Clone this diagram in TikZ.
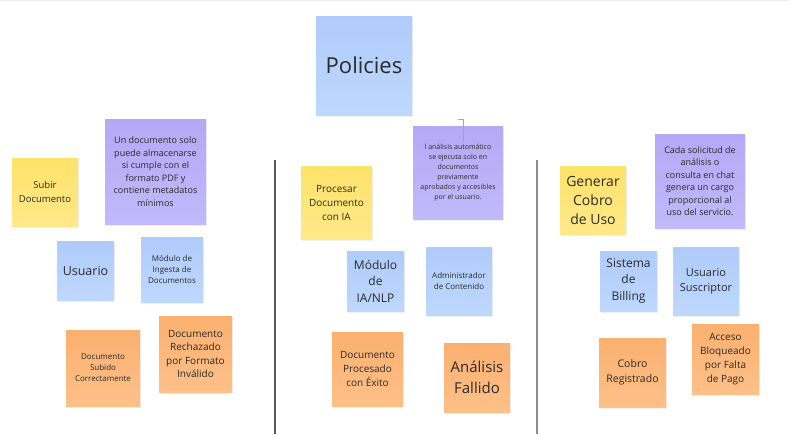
\documentclass[tikz,border=0pt]{standalone}
\usepackage{fontspec}
\setmainfont{Open Sans}
\usetikzlibrary{shadows}
\definecolor{ytop}{HTML}{FDE26A}
\definecolor{ybot}{HTML}{FFE888}
\definecolor{btop}{HTML}{AFCBFA}
\definecolor{bbot}{HTML}{BED8FD}
\definecolor{otop}{HTML}{FBB070}
\definecolor{obot}{HTML}{FDC088}
\definecolor{ptop}{HTML}{B5A8F5}
\definecolor{pbot}{HTML}{C2B9FA}
\definecolor{ink}{HTML}{2B2B2B}
\newcommand{\fs}[2]{\fontsize{#1}{#2}\selectfont}
\begin{document}
\begin{tikzpicture}[x=1pt,y=-1pt,
  sticky/.style 2 args={top color=#1,bottom color=#2,draw=none,inner sep=0pt,
    align=center,text=ink,
    drop shadow={opacity=0.12,shadow xshift=1pt,shadow yshift=-1.5pt}},
  yellownote/.style={sticky={ytop}{ybot}},
  bluenote/.style={sticky={btop}{bbot}},
  orangenote/.style={sticky={otop}{obot}},
  purplenote/.style={sticky={ptop}{pbot}},
  lane/.style={draw=#1,line width=1.3pt}]
\useasboundingbox (0,0) rectangle (789,434);
\fill[white] (0,0) rectangle (789,434);
\fill[black!7] (0,0) rectangle (789,1.3);
% title
\node[bluenote,minimum width=96pt,minimum height=99pt,font=\fs{22}{26}] (policies) at (364,65.5) {Policies};
% lanes
\draw[lane=black!65] (275,160) -- (275,434);
\draw[lane=black!45] (537,160) -- (537,434);
% first lane
\node[yellownote,minimum width=66pt,minimum height=68pt,font=\fs{9.5}{13.5}] (subir) at (45,192) {Subir\\Documento};
\node[purplenote,minimum width=101pt,minimum height=105pt,font=\fs{9}{12.5}] (regla1) at (155.5,171.5) {Un documento solo\\puede almacenarse\\si cumple con el\\formato PDF y\\contiene metadatos\\mínimos};
\node[bluenote,minimum width=57pt,minimum height=59pt,font=\fs{12.5}{16}] (usuario) at (85.5,270.5) {Usuario};
\node[bluenote,minimum width=62pt,minimum height=65pt,font=\fs{8}{11}] (ingesta) at (172,269.5) {Módulo de\\Ingesta de\\Documentos};
\node[orangenote,minimum width=74pt,minimum height=76pt,font=\fs{8}{11}] (subido) at (103,368) {Documento\\Subido\\Correctamente};
\node[orangenote,minimum width=73pt,minimum height=76pt,font=\fs{10}{13.5}] (rechazado) at (195.5,354) {Documento\\Rechazado\\por Formato\\Inválido};
% second lane
\node[yellownote,minimum width=71pt,minimum height=73pt,font=\fs{10}{14}] (procesar) at (336.5,202.5) {Procesar\\Documento\\con IA};
\node[purplenote,minimum width=90pt,minimum height=93pt,font=\fs{7}{10}] (regla2) at (458,172.5) {l análisis automático\\se ejecuta solo en\\documentos\\previamente\\aprobados y accesibles\\por el usuario.};
\draw[black!35,line width=0.5pt] (458,119) -- (463,119) -- (463,142);
\node[bluenote,minimum width=57pt,minimum height=60pt,font=\fs{12}{16.5}] (nlp) at (375.5,281) {Módulo\\de\\IA/NLP};
\node[bluenote,minimum width=66pt,minimum height=68pt,font=\fs{8}{11}] (admin) at (459,281) {Administrador\\de Contenido};
\node[orangenote,minimum width=71pt,minimum height=74pt,font=\fs{10}{14}] (procesado) at (367.5,369) {Documento\\Procesado\\con Éxito};
\node[orangenote,minimum width=66pt,minimum height=69pt,font=\fs{15}{21}] (fallido) at (477,377.5) {Análisis\\Fallido};
% third lane
\node[yellownote,minimum width=66pt,minimum height=68pt,font=\fs{14}{19}] (cobro) at (593,200) {Generar\\Cobro\\de Uso};
\node[purplenote,minimum width=90pt,minimum height=94pt,font=\fs{9}{12.5}] (regla3) at (700,181) {Cada solicitud de\\análisis o\\consulta en chat\\genera un cargo\\proporcional al\\uso del servicio.};
\node[bluenote,minimum width=57pt,minimum height=60pt,font=\fs{12}{16.5}] (billing) at (628.5,281) {Sistema\\de\\Billing};
\node[bluenote,minimum width=66pt,minimum height=68pt,font=\fs{11}{15}] (suscriptor) at (706,281) {Usuario\\Suscriptor};
\node[orangenote,minimum width=67pt,minimum height=69pt,font=\fs{10.5}{15}] (registrado) at (632.5,372.5) {Cobro\\Registrado};
\node[orangenote,minimum width=67pt,minimum height=70pt,font=\fs{10}{14}] (bloqueado) at (725.5,359) {Acceso\\Bloqueado\\por Falta\\de Pago};
\end{tikzpicture}
\end{document}
